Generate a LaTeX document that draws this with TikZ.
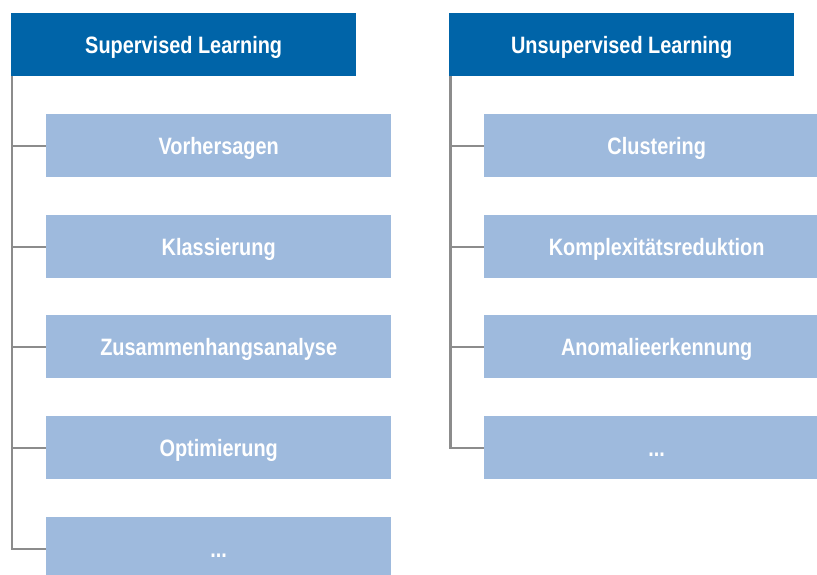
\documentclass[tikz,border=0pt]{standalone}
\usepackage{fontspec}
\setmainfont{Liberation Sans}[FakeStretch=0.84]
\definecolor{headblue}{HTML}{0064A8}
\definecolor{itemblue}{HTML}{9EBADD}
\definecolor{linkgray}{HTML}{8C8C8C}
\begin{document}
\begin{tikzpicture}[x=1pt,y=-1pt,
  box/.style={anchor=north west, minimum width=345pt, minimum height=63pt,
    inner sep=0pt, text height=17pt, text depth=0pt, text=white,
    font=\fontsize{23.7}{26}\selectfont\bfseries},
  head/.style={box, fill=headblue},
  item/.style={box, fill=itemblue},
  link/.style={draw=linkgray, line width=2.4pt}]
\useasboundingbox (0,0) rectangle (817,574);
\clip (0,0) rectangle (817,574);

% Supervised learning column
\node[head] (S0) at (11,13) {Supervised Learning};
\node[item] (S1) at (46,114) {Vorhersagen};
\node[item] (S2) at (46,215) {Klassierung};
\node[item] (S3) at (46,315) {Zusammenhangsanalyse};
\node[item] (S4) at (46,416) {Optimierung};
\node[item] (S5) at (46,517) {...};

% Unsupervised learning column
\node[head] (U0) at (449,13) {Unsupervised Learning};
\node[item] (U1) at (484,114) {Clustering};
\node[item] (U2) at (484,215) {Komplexitätsreduktion};
\node[item] (U3) at (484,315) {Anomalieerkennung};
\node[item] (U4) at (484,416) {...};

% Tree connectors
\coordinate (sroot) at ([xshift=1.2pt]S0.south west);
\coordinate (uroot) at ([xshift=1.5pt]U0.south west);
\foreach \i in {1,...,5} \draw[link] (sroot) |- (S\i.west);
\foreach \i in {1,...,4} \draw[link] (uroot) |- (U\i.west);
\end{tikzpicture}
\end{document}
